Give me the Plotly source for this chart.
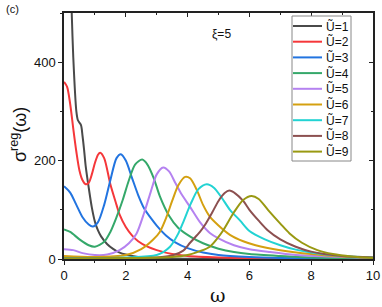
import plotly.graph_objects as go

# omega grid points and sigma^reg values for each U
w1 = [0.0, 0.1, 0.2, 0.25, 0.3, 0.4, 0.45, 0.55, 0.6, 0.65, 0.7, 0.8, 0.9, 1.0, 1.1, 1.2, 1.4, 1.6, 1.8, 2.0, 2.4, 3.0, 4.0, 6.0, 10.0]
s1 = [1500, 900, 600, 500, 410, 300, 282, 272, 250, 222, 190, 145, 105, 76, 58, 46, 30, 20, 13, 9, 4, 1.5, 0.5, 0.2, 0.1]

w2 = [0.0, 0.1, 0.2, 0.3, 0.4, 0.5, 0.6, 0.7, 0.8, 0.9, 1.0, 1.1, 1.17, 1.3, 1.5, 1.7, 1.8, 2.0, 2.2, 2.4, 2.7, 3.0, 3.5, 4.0, 5.0, 6.0, 8.0, 10.0]
s2 = [360, 350, 315, 265, 218, 180, 160, 152, 155, 172, 195, 212, 216, 205, 152, 110, 90, 65, 48, 36, 25, 18, 10, 6, 3, 1.5, 0.5, 0.2]

w3 = [0.0, 0.2, 0.4, 0.6, 0.8, 0.93, 1.1, 1.3, 1.5, 1.7, 1.84, 2.0, 2.2, 2.4, 2.6, 2.8, 3.0, 3.3, 3.6, 4.0, 4.5, 5.0, 6.0, 7.0, 8.0, 10.0]
s3 = [148, 135, 110, 85, 70, 66, 75, 110, 160, 205, 213, 200, 165, 130, 102, 84, 68, 48, 34, 22, 13, 8, 4, 2, 1, 0.3]

w4 = [0.0, 0.2, 0.5, 0.8, 1.0, 1.3, 1.5, 1.7, 1.9, 2.1, 2.3, 2.53, 2.7, 2.9, 3.1, 3.4, 3.7, 4.1, 4.5, 5.0, 5.5, 6.0, 7.0, 8.0, 9.0, 10.0]
s4 = [60, 55, 40, 28, 25, 35, 55, 85, 120, 160, 192, 202, 192, 165, 128, 88, 63, 45, 32, 21, 14, 10, 6, 3, 2, 1]

w5 = [0.0, 0.3, 0.6, 1.0, 1.4, 1.8, 2.1, 2.35, 2.6, 2.8, 3.0, 3.21, 3.4, 3.6, 3.8, 4.08, 4.4, 4.72, 5.0, 5.5, 6.0, 6.67, 7.5, 8.5, 10.0]
s5 = [20, 18, 12, 8, 9, 18, 32, 52, 95, 135, 172, 186, 178, 155, 132, 106, 75, 53, 42, 28, 20, 14, 8, 5, 2]

w6 = [0.0, 1.0, 2.0, 2.5, 2.88, 3.1, 3.32, 3.5, 3.7, 3.92, 4.08, 4.3, 4.5, 4.72, 5.0, 5.37, 5.8, 6.2, 7.0, 8.0, 9.0, 10.0]
s6 = [6, 4, 8, 20, 39, 55, 86, 118, 150, 167, 164, 140, 110, 86, 68, 49, 36, 28, 18, 10, 5, 3]

w7 = [0.0, 2.0, 3.0, 3.43, 3.7, 3.86, 4.1, 4.35, 4.62, 4.85, 5.1, 5.37, 5.7, 6.0, 6.5, 7.0, 7.5, 8.0, 9.0, 10.0]
s7 = [2, 3, 8, 25, 52, 75, 112, 142, 152, 145, 125, 100, 78, 57, 40, 28, 19, 13, 6, 3]

w8 = [0.0, 3.0, 3.5, 3.86, 4.08, 4.4, 4.56, 4.8, 5.0, 5.2, 5.35, 5.55, 5.8, 6.0, 6.3, 6.6, 7.0, 7.5, 8.0, 9.0, 10.0]
s8 = [1, 3, 7, 17, 33, 55, 69, 95, 118, 134, 139, 133, 118, 100, 78, 58, 40, 25, 15, 6, 3]

w9 = [0.0, 3.5, 4.0, 4.4, 4.72, 5.0, 5.16, 5.5, 5.8, 6.07, 6.3, 6.6, 7.0, 7.3, 7.7, 8.2, 8.7, 9.3, 10.0]
s9 = [1, 4, 8, 16, 25, 45, 59, 95, 120, 128, 122, 100, 72, 52, 33, 18, 10, 5, 2]

series_w = [w1, w2, w3, w4, w5, w6, w7, w8, w9]
series_s = [s1, s2, s3, s4, s5, s6, s7, s8, s9]
labels = ["Ũ=1", "Ũ=2", "Ũ=3", "Ũ=4", "Ũ=5", "Ũ=6", "Ũ=7", "Ũ=8", "Ũ=9"]
colors = ["#4a4a4a", "#f5373a", "#2274e0", "#35a86a", "#b582f0",
          "#d4a010", "#22d3d3", "#8c5050", "#999912"]

x_ticks = [0, 2, 4, 6, 8, 10]
y_ticks = [0, 200, 400]

FONT = "Liberation Sans, Arial, sans-serif"
W, H = 382, 307
L, R, T, B = 64, 9, 13, 48
pw, ph = W - L - R, H - T - B

def px(xp):  # pixel x -> paper x
    return (xp - L) / pw

def py(yp):  # pixel y -> paper y
    return (H - B - yp) / ph

fig = go.Figure()
for w, s, lab, c in zip(series_w, series_s, labels, colors):
    fig.add_trace(go.Scatter(x=w, y=s, mode="lines", name=lab, showlegend=False,
                             line=dict(color=c, width=2, shape="spline", smoothing=0.8)))

# dummy trace for mirrored (inside) ticks on top/right
fig.add_trace(go.Scatter(x=[None], y=[None], xaxis="x2", yaxis="y2",
                         showlegend=False, hoverinfo="skip"))

# custom legend (box, line samples, labels)
shapes = [dict(type="rect", xref="paper", yref="paper",
               x0=px(292), x1=px(351), y0=py(161), y1=py(16),
               line=dict(color="#888888", width=1), fillcolor="white", layer="above")]
annotations = []
for i, (lab, c) in enumerate(zip(labels, colors)):
    yy = 26 + i * 15.7
    shapes.append(dict(type="line", xref="paper", yref="paper",
                       x0=px(293), x1=px(322), y0=py(yy), y1=py(yy),
                       line=dict(color=c, width=2), layer="above"))
    annotations.append(dict(text=lab, xref="paper", yref="paper", x=px(324), y=py(yy),
                            xanchor="left", yanchor="middle", showarrow=False,
                            font=dict(size=12, family=FONT, color="#111111")))

annotations += [
    dict(text="(c)", xref="paper", yref="paper", x=px(4), y=py(1),
         xanchor="left", yanchor="top", showarrow=False, font=dict(size=11, family=FONT)),
    dict(text="ξ=5", xref="x", yref="y", x=5.1, y=458, showarrow=False,
         font=dict(size=12, family=FONT)),
    dict(text="ω", xref="paper", yref="paper", x=px(218), y=py(295),
         xanchor="center", yanchor="middle", showarrow=False,
         font=dict(size=19, family="DejaVu Serif", color="#111111")),
    dict(text="σ<sup>reg</sup>(ω)", xref="paper", yref="paper", x=px(18), y=py(135),
         xanchor="center", yanchor="middle", showarrow=False, textangle=-90,
         font=dict(size=18, family=FONT, color="#111111")),
]

axcol = "#222222"
fig.update_layout(
    width=W, height=H,
    margin=dict(l=L, r=R, t=T, b=B, autoexpand=False),
    plot_bgcolor="white", paper_bgcolor="white",
    font=dict(family=FONT, size=13, color="#111111"),
    xaxis=dict(range=[0, 10], tickvals=x_ticks, ticks="outside", ticklen=4,
               tickwidth=1.2, tickcolor=axcol, showline=True, linecolor=axcol,
               linewidth=1.5, showgrid=False, zeroline=False, automargin=False,
               tickfont=dict(size=13),
               minor=dict(dtick=1, ticks="outside", ticklen=2.5, tickcolor=axcol)),
    yaxis=dict(range=[0, 500], tickvals=y_ticks, ticks="outside", ticklen=4,
               tickwidth=1.2, tickcolor=axcol, showline=True, linecolor=axcol,
               linewidth=1.5, showgrid=False, zeroline=False, automargin=False,
               tickfont=dict(size=13),
               minor=dict(dtick=100, ticks="outside", ticklen=2.5, tickcolor=axcol)),
    xaxis2=dict(range=[0, 10], overlaying="x", side="top", tickvals=x_ticks,
                ticks="inside", ticklen=4, tickcolor=axcol, showticklabels=False,
                showline=True, linecolor=axcol, linewidth=1.5, showgrid=False,
                zeroline=False, automargin=False,
                minor=dict(dtick=1, ticks="inside", ticklen=2.5, tickcolor=axcol)),
    yaxis2=dict(range=[0, 500], overlaying="y", side="right", tickvals=y_ticks,
                ticks="inside", ticklen=4, tickcolor=axcol, showticklabels=False,
                showline=True, linecolor=axcol, linewidth=1.5, showgrid=False,
                zeroline=False, automargin=False,
                minor=dict(dtick=100, ticks="inside", ticklen=2.5, tickcolor=axcol)),
    shapes=shapes,
    annotations=annotations,
    showlegend=False,
)

fig.write_html("out.html", config={"displayModeBar": False},
               post_script="document.body.style.margin='0';document.body.style.padding='0';document.body.style.overflow='hidden';")
